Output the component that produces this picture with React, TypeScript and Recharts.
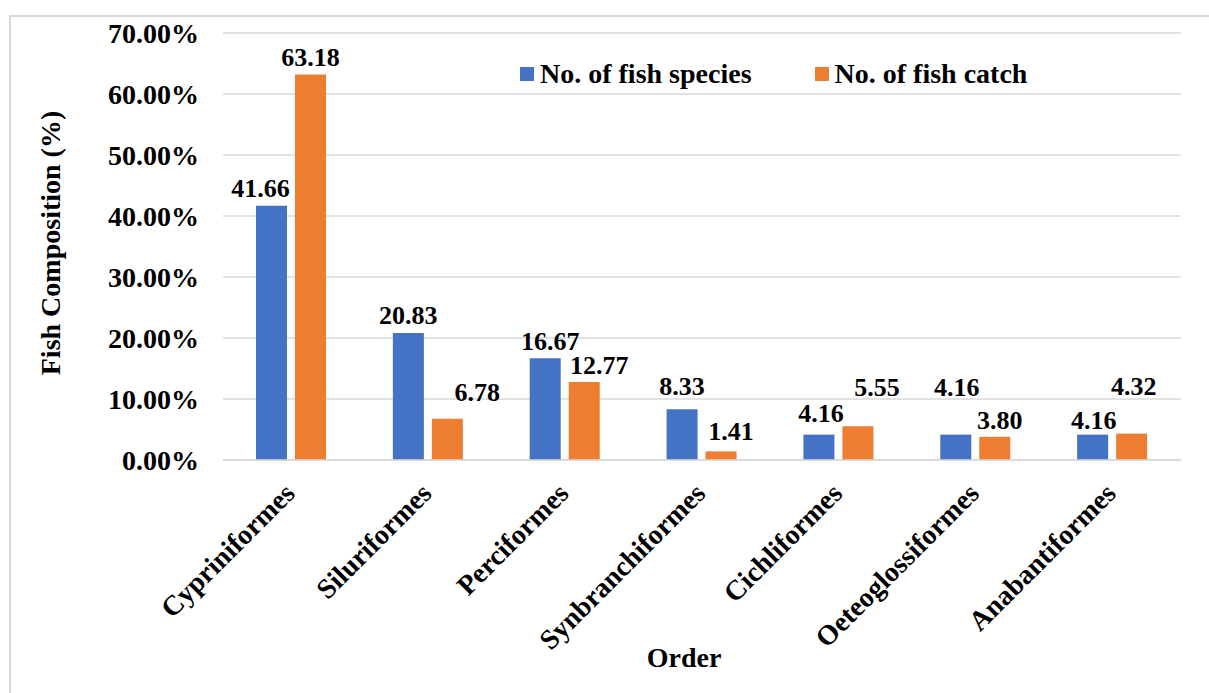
import React from "react";
import {
  BarChart,
  Bar,
  XAxis,
  YAxis,
  CartesianGrid,
  LabelList,
} from "recharts";

// Fish orders and their share (%) of species count and of total catch
const orders = [
  "Cypriniformes",
  "Siluriformes",
  "Perciformes",
  "Synbranchiformes",
  "Cichliformes",
  "Oeteoglossiformes",
  "Anabantiformes",
];
const speciesShare = [41.66, 20.83, 16.67, 8.33, 4.16, 4.16, 4.16];
const catchShare = [63.18, 6.78, 12.77, 1.41, 5.55, 3.8, 4.32];
const yTicks = [0, 10, 20, 30, 40, 50, 60, 70];

const BLUE = "#4472C4";
const ORANGE = "#ED7D31";
const GRID = "#d9d9d9";
const FONT = "'Liberation Serif', 'Times New Roman', serif";

// Hand nudges for the value labels [dx, extra lift] so they don't collide
const speciesNudge: [number, number][] = [
  [-11, 0], [0, 0], [5, 0], [0, 6], [2, 4], [1, 30], [1, -3],
];
const catchNudge: [number, number][] = [
  [0, 0], [30, 9], [15, 0], [10, 3], [19, 22], [5, -1], [2, 30],
];

const data = orders.map((order, i) => ({
  order,
  species: speciesShare[i],
  catch: catchShare[i],
}));

const makeValueLabel = (nudge: [number, number][]) => (props: any) => {
  const { x, y, width, value, index } = props;
  const [dx, lift] = nudge[index] || [0, 0];
  return (
    <text
      x={x + width / 2 + dx}
      y={y - 17 - lift}
      textAnchor="middle"
      dominantBaseline="central"
      fontFamily={FONT}
      fontWeight="bold"
      fontSize={26}
      fill="#000"
    >
      {Number(value).toFixed(2)}
    </text>
  );
};

const OrderTick = (props: any) => {
  const { x, y, payload } = props;
  const ax = x + 5;
  const ay = y + 27;
  return (
    <text
      x={ax}
      y={ay}
      transform={`rotate(-45, ${ax}, ${ay})`}
      textAnchor="end"
      fontFamily={FONT}
      fontWeight="bold"
      fontSize={28}
      fill="#000"
    >
      {payload.value}
    </text>
  );
};

const legendItems = [
  { label: "No. of fish species", color: BLUE },
  { label: "No. of fish catch", color: ORANGE },
];

export default function App() {
  return (
    <div
      style={{
        position: "absolute",
        left: 0,
        top: 0,
        width: 1209,
        height: 693,
        overflow: "hidden",
        background: "#fff",
      }}
    >
      <div
        style={{
          position: "absolute",
          left: 9,
          top: 15,
          width: 1400,
          height: 900,
          border: `2px solid ${GRID}`,
        }}
      />
      <BarChart
        width={1209}
        height={693}
        data={data}
        margin={{ top: 33, right: 28, left: 0, bottom: 0 }}
        barSize={31}
        barGap={8}
        style={{ position: "absolute", left: 0, top: 0 }}
      >
        <CartesianGrid vertical={false} stroke={GRID} strokeWidth={1.5} />
        <XAxis
          dataKey="order"
          height={233}
          interval={0}
          tickLine={false}
          axisLine={{ stroke: GRID, strokeWidth: 1.5 }}
          tick={<OrderTick />}
          label={() => (
            <text
              x={684}
              y={657}
              textAnchor="middle"
              dominantBaseline="central"
              fontFamily={FONT}
              fontWeight="bold"
              fontSize={28}
              fill="#000"
            >
              Order
            </text>
          )}
        />
        <YAxis
          width={223}
          domain={[0, 70]}
          ticks={yTicks}
          interval={0}
          tickLine={false}
          axisLine={false}
          tickMargin={18}
          tickFormatter={(v: number) => `${v.toFixed(2)}%`}
          tick={{ fontFamily: FONT, fontWeight: "bold", fontSize: 28, fill: "#000" }}
          label={() => (
            <text
              x={50}
              y={243}
              transform="rotate(-90, 50, 243)"
              textAnchor="middle"
              dominantBaseline="central"
              fontFamily={FONT}
              fontWeight="bold"
              fontSize={28}
              fill="#000"
            >
              Fish Composition (%)
            </text>
          )}
        />
        <Bar dataKey="species" name="No. of fish species" fill={BLUE} isAnimationActive={false}>
          <LabelList dataKey="species" content={makeValueLabel(speciesNudge)} />
        </Bar>
        <Bar dataKey="catch" name="No. of fish catch" fill={ORANGE} isAnimationActive={false}>
          <LabelList dataKey="catch" content={makeValueLabel(catchNudge)} />
        </Bar>
      </BarChart>
      <div
        style={{
          position: "absolute",
          left: 520,
          top: 56,
          display: "flex",
          alignItems: "center",
          fontFamily: FONT,
          fontWeight: "bold",
          fontSize: 28,
          lineHeight: "36px",
          color: "#000",
          whiteSpace: "nowrap",
        }}
      >
        {legendItems.map((item, i) => (
          <React.Fragment key={item.label}>
            <span
              style={{
                width: 14,
                height: 14,
                background: item.color,
                display: "inline-block",
                marginLeft: i === 0 ? 0 : 63,
                marginRight: 6,
              }}
            />
            <span>{item.label}</span>
          </React.Fragment>
        ))}
      </div>
    </div>
  );
}
